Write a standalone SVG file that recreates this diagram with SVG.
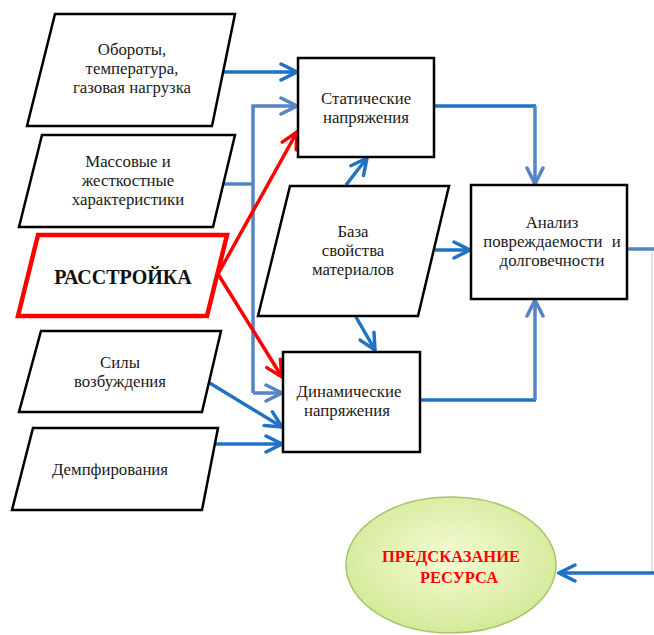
<svg xmlns="http://www.w3.org/2000/svg" width="654" height="635" viewBox="0 0 654 635">
<defs>
<style>
.shape{fill:#fff;stroke:#000;stroke-width:2.5}
.red{fill:#fff;stroke:#ff0000;stroke-width:4.5}
.t{font-family:"Liberation Serif","Times New Roman",serif;font-size:16.8px;fill:#1a1a1a;text-anchor:middle}
.tb{font-family:"Liberation Serif","Times New Roman",serif;font-weight:bold;text-anchor:middle}
.db{fill:none;stroke:#1f72c4;stroke-width:3.5}
.sb{fill:none;stroke:#5585c2;stroke-width:3.5}
.rl{fill:none;stroke:#ff0000;stroke-width:3.5}
</style>
<marker id="adb" viewBox="0 0 20 20" refX="18" refY="10" markerWidth="20" markerHeight="20" markerUnits="userSpaceOnUse" orient="auto"><path d="M2,2 L18,10 L2,18" fill="none" stroke="#1f72c4" stroke-width="3.5" stroke-linecap="round"/></marker>
<marker id="asb" viewBox="0 0 20 20" refX="18" refY="10" markerWidth="20" markerHeight="20" markerUnits="userSpaceOnUse" orient="auto"><path d="M2,2 L18,10 L2,18" fill="none" stroke="#5585c2" stroke-width="3.5" stroke-linecap="round"/></marker>
<marker id="ar" viewBox="0 0 20 20" refX="18" refY="10" markerWidth="20" markerHeight="20" markerUnits="userSpaceOnUse" orient="auto"><path d="M2,2 L18,10 L2,18" fill="none" stroke="#ff0000" stroke-width="3.5" stroke-linecap="round"/></marker>
<radialGradient id="eg" cx="50%" cy="45%" r="55%">
<stop offset="0" stop-color="#f6fbd6"/>
<stop offset="1" stop-color="#d3ea98"/>
</radialGradient>
</defs>
<rect width="654" height="635" fill="#fff"/>

<g id="connectors">
<line class="db" x1="220" y1="72" x2="297" y2="72" marker-end="url(#adb)"/>
<polyline class="sb" points="222,184 253,184"/>
<polyline class="sb" points="253,393 253,106 297,106" marker-end="url(#asb)"/>
<line class="sb" x1="253" y1="393" x2="282" y2="393" marker-end="url(#asb)"/>
<line class="rl" x1="218" y1="274" x2="297" y2="132" marker-end="url(#ar)"/>
<line class="rl" x1="218" y1="274" x2="282" y2="377" marker-end="url(#ar)"/>
<line class="db" x1="208" y1="382" x2="282" y2="427" marker-end="url(#adb)"/>
<line class="db" x1="215" y1="444" x2="282" y2="444" marker-end="url(#adb)"/>
<line class="db" x1="346" y1="185" x2="367" y2="158" marker-end="url(#adb)"/>
<line class="db" x1="356" y1="317" x2="375" y2="350" marker-end="url(#adb)"/>
<line class="db" x1="435" y1="250" x2="470" y2="250" marker-end="url(#adb)"/>
<line class="db" x1="434" y1="106" x2="536" y2="106"/>
<line class="sb" x1="535" y1="106" x2="535" y2="184" marker-end="url(#asb)"/>
<line class="db" x1="420" y1="400" x2="536" y2="400"/>
<line class="sb" x1="535" y1="400" x2="535" y2="300" marker-end="url(#asb)"/>
<line class="sb" x1="627" y1="249" x2="654" y2="249"/>
<line x1="652" y1="252" x2="652" y2="572" stroke="#e2e2e2" stroke-width="2"/>
<line class="db" x1="654" y1="573" x2="559" y2="573" marker-end="url(#adb)"/>
</g>

<g id="oboroty">
<polygon class="shape" points="55,14 235,14 212,126 27,126"/>
<text class="t"><tspan x="132" y="55">Обороты,</tspan><tspan x="132" y="74">температура,</tspan><tspan x="132" y="93">газовая нагрузка</tspan></text>
</g>
<g id="massovye">
<polygon class="shape" points="42,135 235,135 213,227 19,227"/>
<text class="t"><tspan x="128" y="167">Массовые и</tspan><tspan x="128" y="186">жесткостные</tspan><tspan x="128" y="205">характеристики</tspan></text>
</g>
<g id="rasstroyka">
<polygon class="red" points="38,235 227,235 207,316 18,316"/>
<text class="tb" x="123" y="284" font-size="20" fill="#111">РАССТРОЙКА</text>
</g>
<g id="sily">
<polygon class="shape" points="41,331 221,331 202,412 19,412"/>
<text class="t"><tspan x="120" y="368">Силы</tspan><tspan x="120" y="387">возбуждения</tspan></text>
</g>
<g id="dempf">
<polygon class="shape" points="33,428 218,428 202,510 12,510"/>
<text class="t" x="110" y="475">Демпфирования</text>
</g>
<g id="staticheskie">
<rect class="shape" x="298" y="58" width="136" height="99"/>
<text class="t"><tspan x="366" y="104">Статические</tspan><tspan x="366" y="123">напряжения</tspan></text>
</g>
<g id="baza">
<polygon class="shape" points="290,186 449,186 418,316 258,316"/>
<text class="t"><tspan x="353" y="237">База</tspan><tspan x="353" y="256">свойства</tspan><tspan x="353" y="275">материалов</tspan></text>
</g>
<g id="analiz">
<rect class="shape" x="471" y="185" width="156" height="114"/>
<text class="t"><tspan x="552" y="228">Анализ</tspan><tspan x="552" y="247" word-spacing="5">повреждаемости и</tspan><tspan x="552" y="266">долговечности</tspan></text>
</g>
<g id="dinamicheskie">
<rect class="shape" x="283" y="352" width="137" height="100"/>
<text class="t"><tspan x="349" y="397">Динамические</tspan><tspan x="347" y="416">напряжения</tspan></text>
</g>
<g id="predskazanie">
<ellipse cx="451" cy="565" rx="105" ry="68" fill="url(#eg)" stroke="#a6c46a" stroke-width="1.5"/>
<text class="tb" font-size="16.5" fill="#ff0000"><tspan x="451" y="562">ПРЕДСКАЗАНИЕ</tspan><tspan x="459" y="583">РЕСУРСА</tspan></text>
</g>
</svg>
